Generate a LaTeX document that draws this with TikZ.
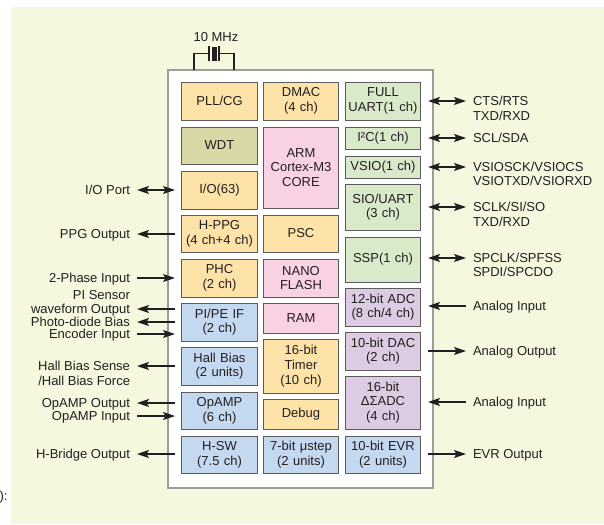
\documentclass[tikz,border=0pt]{standalone}
\usepackage{fontspec}
\setmainfont{Liberation Sans}
\usetikzlibrary{arrows.meta,positioning}
\definecolor{bgcream}{HTML}{F5F7DF}
\definecolor{txt}{HTML}{231F20}
\definecolor{blkline}{HTML}{5C5C5C}
\definecolor{chipline}{HTML}{9C9C9C}
\definecolor{clrY}{HTML}{FDE3A7}
\definecolor{clrK}{HTML}{D8D7A6}
\definecolor{clrP}{HTML}{F9D2E4}
\definecolor{clrG}{HTML}{D9EACB}
\definecolor{clrV}{HTML}{DCCBE2}
\definecolor{clrB}{HTML}{C4D8EF}

\begin{document}
\begin{tikzpicture}[x=1pt,y=-1pt]
\tikzset{
  blk/.style={draw=blkline,line width=0.9pt,minimum width=75.5pt,text width=72pt,align=center,inner sep=0pt,font=\fontsize{13}{14.7}\selectfont,text=txt},
  chipbox/.style={draw=chipline,fill=white,line width=1.4pt,minimum width=265pt,minimum height=418pt,inner sep=0pt},
  lbl/.style={font=\fontsize{13}{14.7}\selectfont,text=txt,inner sep=0pt,outer xsep=7pt,outer ysep=0pt,text height=9.4pt,text depth=0pt},
  lbll/.style={lbl,anchor=east},
  lblr/.style={lbl,anchor=west},
  sig/.style={draw=txt,line width=1.3pt},
  sigout/.style={sig,-{Stealth[length=12pt,width=8pt,inset=2.5pt]}},
  sigin/.style={sig,{Stealth[length=12pt,width=8pt,inset=2.5pt]}-},
  sigbi/.style={sig,{Stealth[length=12pt,width=8pt,inset=2.5pt]}-{Stealth[length=12pt,width=8pt,inset=2.5pt]}},
  lead/.style={draw=txt,line width=1.1pt}
}
\useasboundingbox (0,0) rectangle (604,524);
\fill[bgcream] (11,7) rectangle (604,524);
\node[lbl,anchor=east,outer xsep=0pt] (l_cap) at (7.5,496) {):};

% chip outline
\node[chipbox] (chip) at (300.5,279) {};

% crystal
\node[lbl,anchor=center,outer xsep=0pt] (l_xtal) at (216,37) {10 MHz};
\coordinate (x_l) at (209,53.5);
\coordinate (x_r) at (219,53.5);
\coordinate (x_la) at (194,70);
\coordinate (x_ra) at (234,70);
\draw[lead] (x_l) -| (x_la);
\draw[lead] (x_r) -| (x_ra);
\draw[draw=txt,line width=1.5pt] (209,46.5) -- (209,61.5);
\draw[draw=txt,line width=1.5pt] (219,46.5) -- (219,61.5);
\fill[txt] (212,47.5) rectangle (216.5,61.5);

% column 1
\node[blk,fill=clrY,minimum height=38pt] (b_pll) at (219.5,101) {PLL/CG};
\node[blk,fill=clrK,minimum height=37pt] (b_wdt) at (219.5,145.5) {WDT};
\node[blk,fill=clrY,minimum height=38pt] (b_io) at (219.5,190) {I/O(63)};
\node[blk,fill=clrY,minimum height=37pt] (b_hppg) at (219.5,233.5) {H-PPG\\(4 ch+4 ch)};
\node[blk,fill=clrY,minimum height=38pt] (b_phc) at (219.5,278) {PHC\\(2 ch)};
\node[blk,fill=clrB,minimum height=38pt] (b_pipe) at (219.5,322) {PI/PE IF\\(2 ch)};
\node[blk,fill=clrB,minimum height=38pt] (b_hall) at (219.5,366) {Hall Bias\\(2 units)};
\node[blk,fill=clrB,minimum height=37pt] (b_opamp) at (219.5,410.5) {OpAMP\\(6 ch)};
\node[blk,fill=clrB,minimum height=37pt] (b_hsw) at (219.5,454.5) {H-SW\\(7.5 ch)};

% column 2
\node[blk,fill=clrY,minimum height=38pt] (b_dmac) at (301,101) {DMAC\\(4 ch)};
\node[blk,fill=clrP,minimum height=81pt] (b_arm) at (301,167.5) {ARM\\Cortex-M3\\CORE};
\node[blk,fill=clrY,minimum height=37pt] (b_psc) at (301,233.5) {PSC};
\node[blk,fill=clrP,minimum height=38pt] (b_flash) at (301,278) {NANO\\FLASH};
\node[blk,fill=clrP,minimum height=30pt] (b_ram) at (301,318) {RAM};
\node[blk,fill=clrY,minimum height=54pt] (b_tmr) at (301,366) {16-bit\\Timer\\(10 ch)};
\node[blk,fill=clrY,minimum height=30pt] (b_dbg) at (301,414) {Debug};
\node[blk,fill=clrB,minimum height=37pt] (b_ustep) at (301,454.5) {7-bit μstep\\(2 units)};

% column 3
\node[blk,fill=clrG,minimum height=38pt] (b_uart) at (383,101) {FULL\\UART(1 ch)};
\node[blk,fill=clrG,minimum height=22pt] (b_i2c) at (383,138) {I²C(1 ch)};
\node[blk,fill=clrG,minimum height=22pt] (b_vsio) at (383,167) {VSIO(1 ch)};
\node[blk,fill=clrG,minimum height=46pt] (b_sio) at (383,207) {SIO/UART\\(3 ch)};
\node[blk,fill=clrG,minimum height=45pt] (b_ssp) at (383,259.5) {SSP(1 ch)};
\node[blk,fill=clrV,minimum height=38pt] (b_adc) at (383,307) {12-bit ADC\\(8 ch/4 ch)};
\node[blk,fill=clrV,minimum height=38pt] (b_dac) at (383,351) {10-bit DAC\\(2 ch)};
\node[blk,fill=clrV,minimum height=53pt] (b_dsadc) at (383,402.5) {16-bit\\ΔΣADC\\(4 ch)};
\node[blk,fill=clrB,minimum height=37pt] (b_evr) at (383,454.5) {10-bit EVR\\(2 units)};

% left side signals
\coordinate (c_io) at (175,190);
\coordinate (c_ppg) at (175,234);
\coordinate (c_phase) at (175,278);
\coordinate (c_wave) at (175,309);
\coordinate (c_photo) at (175,322);
\coordinate (c_enc) at (175,334);
\coordinate (c_hall) at (175,366);
\coordinate (c_opout) at (175,403);
\coordinate (c_opin) at (175,416);
\coordinate (c_hbr) at (175,454);
\node[lbll] (l_io) at (137,190) {I/O Port};
\node[lbll] (l_ppg) at (137,234) {PPG Output};
\node[lbll] (l_phase) at (137,278) {2-Phase Input};
\node[lbll] (l_pisens) at (137,295) {PI Sensor};
\node[lbll] (l_wave) at (137,309) {waveform Output};
\node[lbll] (l_photo) at (137,322) {Photo-diode Bias};
\node[lbll] (l_enc) at (137,334) {Encoder Input};
\node[lbll] (l_hall) at (137,366) {Hall Bias Sense};
\node[lbll] (l_force) at (137,381) {/Hall Bias Force};
\node[lbll] (l_opout) at (137,403) {OpAMP Output};
\node[lbll] (l_opin) at (137,416) {OpAMP Input};
\node[lbll] (l_hbr) at (137,454) {H-Bridge Output};
\draw[sigbi] (c_io) -- (l_io);
\draw[sigout] (c_ppg) -- (l_ppg);
\draw[sigin] (c_phase) -- (l_phase);
\draw[sigout] (c_wave) -- (l_wave);
\draw[sigout] (c_photo) -- (l_photo);
\draw[sigin] (c_enc) -- (l_enc);
\draw[sigout] (c_hall) -- (l_hall);
\draw[sigout] (c_opout) -- (l_opout);
\draw[sigin] (c_opin) -- (l_opin);
\draw[sigout] (c_hbr) -- (l_hbr);

% right side signals
\coordinate (c_uart) at (428,101);
\coordinate (c_i2c) at (428,138);
\coordinate (c_vsio) at (428,167);
\coordinate (c_sio) at (428,207);
\coordinate (c_ssp) at (428,258);
\coordinate (c_adc) at (428,306);
\coordinate (c_dac) at (428,351);
\coordinate (c_dsadc) at (428,402);
\coordinate (c_evr) at (428,454);
\node[lblr] (l_uart) at (466,101) {CTS/RTS};
\node[lblr] (l_uart2) at (466,116) {TXD/RXD};
\node[lblr] (l_i2c) at (466,138) {SCL/SDA};
\node[lblr] (l_vsio) at (466,167) {VSIOSCK/VSIOCS};
\node[lblr] (l_vsio2) at (466,181) {VSIOTXD/VSIORXD};
\node[lblr] (l_sio) at (466,207) {SCLK/SI/SO};
\node[lblr] (l_sio2) at (466,222) {TXD/RXD};
\node[lblr] (l_ssp) at (466,258) {SPCLK/SPFSS};
\node[lblr] (l_ssp2) at (466,272) {SPDI/SPCDO};
\node[lblr] (l_adc) at (466,306) {Analog Input};
\node[lblr] (l_dac) at (466,351) {Analog Output};
\node[lblr] (l_dsadc) at (466,402) {Analog Input};
\node[lblr] (l_evr) at (466,454) {EVR Output};
\draw[sigbi] (c_uart) -- (l_uart);
\draw[sigbi] (c_i2c) -- (l_i2c);
\draw[sigbi] (c_vsio) -- (l_vsio);
\draw[sigbi] (c_sio) -- (l_sio);
\draw[sigbi] (c_ssp) -- (l_ssp);
\draw[sigin] (c_adc) -- (l_adc);
\draw[sigout] (c_dac) -- (l_dac);
\draw[sigin] (c_dsadc) -- (l_dsadc);
\draw[sigout] (c_evr) -- (l_evr);
\end{tikzpicture}
\end{document}
